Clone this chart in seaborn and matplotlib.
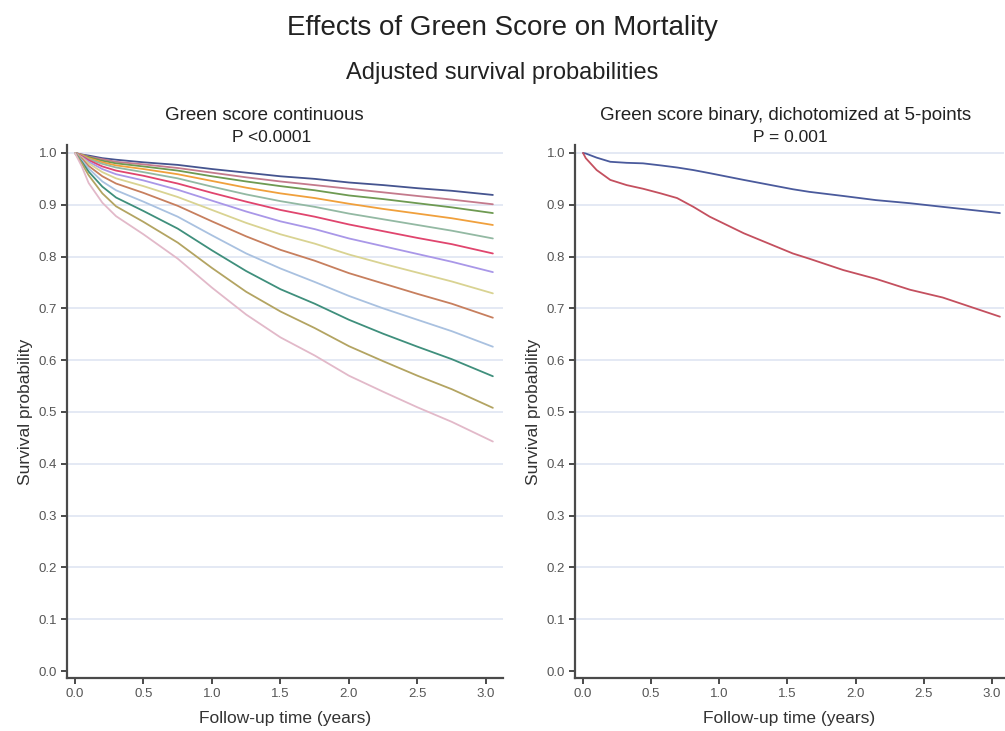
import numpy as np
import pandas as pd
import matplotlib
matplotlib.use("Agg")
import matplotlib.pyplot as plt
import seaborn as sns

# ---------------- data ----------------
time_cont = [0, 0.05, 0.1, 0.2, 0.3, 0.5, 0.75, 1.0, 1.25, 1.5, 1.75, 2.0, 2.25, 2.5, 2.75, 3.05]

curve_01 = [1.000, 0.997, 0.995, 0.990, 0.987, 0.982, 0.977, 0.969, 0.962, 0.955, 0.950, 0.943, 0.938, 0.932, 0.927, 0.919]
curve_02 = [1.000, 0.997, 0.993, 0.988, 0.983, 0.978, 0.971, 0.962, 0.953, 0.945, 0.938, 0.931, 0.924, 0.917, 0.910, 0.901]
curve_03 = [1.000, 0.996, 0.992, 0.985, 0.980, 0.974, 0.966, 0.955, 0.945, 0.936, 0.928, 0.918, 0.911, 0.903, 0.895, 0.884]
curve_04 = [1.000, 0.996, 0.990, 0.982, 0.976, 0.969, 0.959, 0.946, 0.933, 0.922, 0.913, 0.902, 0.892, 0.883, 0.874, 0.861]
curve_05 = [1.000, 0.995, 0.988, 0.979, 0.972, 0.963, 0.951, 0.935, 0.920, 0.907, 0.896, 0.883, 0.872, 0.861, 0.850, 0.835]
curve_06 = [1.000, 0.994, 0.986, 0.974, 0.966, 0.956, 0.941, 0.923, 0.906, 0.890, 0.877, 0.862, 0.849, 0.836, 0.824, 0.806]
curve_07 = [1.000, 0.992, 0.983, 0.969, 0.959, 0.947, 0.929, 0.908, 0.887, 0.868, 0.853, 0.835, 0.820, 0.805, 0.790, 0.770]
curve_08 = [1.000, 0.991, 0.980, 0.963, 0.951, 0.936, 0.915, 0.890, 0.865, 0.843, 0.825, 0.804, 0.786, 0.769, 0.752, 0.729]
curve_09 = [1.000, 0.989, 0.975, 0.955, 0.941, 0.923, 0.898, 0.868, 0.839, 0.813, 0.792, 0.768, 0.748, 0.728, 0.709, 0.682]
curve_10 = [1.000, 0.986, 0.970, 0.945, 0.928, 0.906, 0.877, 0.841, 0.806, 0.777, 0.751, 0.724, 0.700, 0.678, 0.656, 0.626]
curve_11 = [1.000, 0.983, 0.964, 0.935, 0.914, 0.888, 0.854, 0.812, 0.772, 0.737, 0.709, 0.678, 0.651, 0.626, 0.602, 0.569]
curve_12 = [1.000, 0.980, 0.957, 0.922, 0.897, 0.867, 0.827, 0.778, 0.732, 0.694, 0.662, 0.627, 0.598, 0.570, 0.544, 0.508]
curve_13 = [1.000, 0.974, 0.942, 0.904, 0.878, 0.843, 0.796, 0.740, 0.688, 0.644, 0.609, 0.570, 0.539, 0.509, 0.481, 0.443]

cont_names = [f"score {i}" for i in range(1, 14)]
cont_curves = [curve_01, curve_02, curve_03, curve_04, curve_05, curve_06, curve_07,
               curve_08, curve_09, curve_10, curve_11, curve_12, curve_13]
cont_colors = ["#45548f", "#c47a8c", "#6e9a52", "#f0a03c", "#93b9a3", "#e0456e", "#a997e8",
               "#d9d392", "#c77f5e", "#a9c1e0", "#3f8f7c", "#b3a462", "#e2b9c9"]

time_bin = [0.0, 0.02, 0.10, 0.20, 0.32, 0.44, 0.57, 0.69, 0.81, 0.93, 1.18, 1.54, 1.66, 1.91, 2.15, 2.40, 2.64, 3.06]
bin_high = [1.000, 0.999, 0.991, 0.983, 0.981, 0.980, 0.976, 0.972, 0.967, 0.961, 0.948, 0.930, 0.925, 0.917, 0.909, 0.903, 0.896, 0.884]
bin_low = [1.000, 0.990, 0.967, 0.948, 0.938, 0.931, 0.922, 0.913, 0.896, 0.877, 0.845, 0.806, 0.796, 0.774, 0.757, 0.736, 0.721, 0.684]
bin_names = ["Green score >= 5", "Green score < 5"]
bin_colors = ["#4a5a9c", "#c4505f"]

title = "Effects of Green Score on Mortality"
subtitle = "Adjusted survival probabilities"
left_title = "Green score continuous"
left_p = "P <0.0001"
right_title = "Green score binary, dichotomized at 5-points"
right_p = "P = 0.001"
xlabel = "Follow-up time (years)"
ylabel = "Survival probability"
xticks = [0.0, 0.5, 1.0, 1.5, 2.0, 2.5, 3.0]
yticks = [0.0, 0.1, 0.2, 0.3, 0.4, 0.5, 0.6, 0.7, 0.8, 0.9, 1.0]

# ---------------- frames ----------------
df_cont = pd.DataFrame({
    "time": np.tile(time_cont, len(cont_curves)),
    "surv": np.concatenate(cont_curves),
    "group": np.repeat(cont_names, len(time_cont)),
})
df_bin = pd.DataFrame({
    "time": np.tile(time_bin, 2),
    "surv": np.concatenate([bin_high, bin_low]),
    "group": np.repeat(bin_names, len(time_bin)),
})

# ---------------- style ----------------
sns.set_theme(style="white")
plt.rcParams["font.family"] = ["Liberation Sans", "DejaVu Sans"]

W, H = 1005, 731
fig = plt.figure(figsize=(W / 100, H / 100), dpi=100)
ax1 = fig.add_axes([67 / W, 1 - 678 / H, 436 / W, 533 / H])
ax2 = fig.add_axes([575 / W, 1 - 678 / H, 429 / W, 533 / H])

sns.lineplot(data=df_cont, x="time", y="surv", hue="group", hue_order=cont_names,
             palette=cont_colors, ax=ax1, legend=False, linewidth=1.3, estimator=None)
sns.lineplot(data=df_bin, x="time", y="surv", hue="group", hue_order=bin_names,
             palette=bin_colors, ax=ax2, legend=False, linewidth=1.3, estimator=None)

grey = "#555555"
for ax, xlim in ((ax1, (-0.058, 3.124)), (ax2, (-0.059, 3.09))):
    ax.set_xlim(*xlim)
    ax.set_ylim(-0.0135, 1.0154)
    ax.set_xticks(xticks)
    ax.set_xticklabels([f"{v:.1f}" for v in xticks])
    ax.set_yticks(yticks)
    ax.set_yticklabels([f"{v:.1f}" for v in yticks])
    for y in yticks[1:]:
        ax.axhline(y, color="#e4e9f4", linewidth=1.4, zorder=0)
    for s in ("top", "right"):
        ax.spines[s].set_visible(False)
    for s in ("left", "bottom"):
        ax.spines[s].set_color("#4a4a4a")
        ax.spines[s].set_linewidth(1.6)
    ax.tick_params(axis="both", which="major", direction="out", length=4, width=1.4,
                   color="#4a4a4a", labelsize=9.5, labelcolor=grey, pad=3,
                   left=True, bottom=True)
    ax.set_xlabel(xlabel, fontsize=12.5, color="#333333", labelpad=8)
    ax.set_ylabel(ylabel, fontsize=12.5, color="#333333", labelpad=4)

fig.text(264 / W, 1 - 116 / H, left_title, ha="center", va="center", fontsize=13.5, color="#222222")
fig.text(272 / W, 1 - 137 / H, left_p, ha="center", va="center", fontsize=12.5, color="#222222")
fig.text(786 / W, 1 - 116 / H, right_title, ha="center", va="center", fontsize=13.5, color="#222222")
fig.text(790 / W, 1 - 137 / H, right_p, ha="center", va="center", fontsize=12.5, color="#222222")

fig.text(502 / W, 1 - 28 / H, title, ha="center", va="center", fontsize=20, color="#222222")
fig.text(502 / W, 1 - 73 / H, subtitle, ha="center", va="center", fontsize=17, color="#222222")

fig.savefig("out.png", dpi=100, facecolor="white")
